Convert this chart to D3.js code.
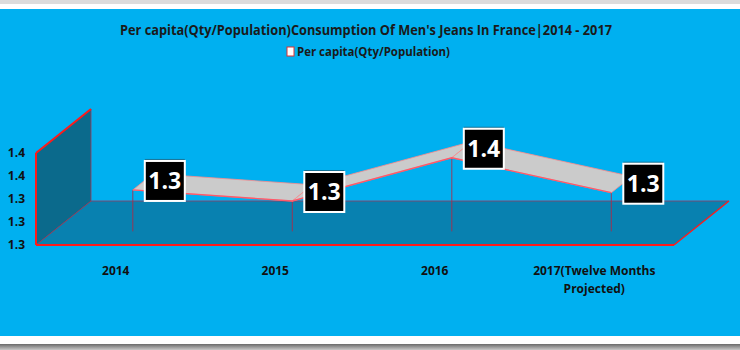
<!DOCTYPE html>
<html><head><meta charset="utf-8">
<script src="https://cdn.jsdelivr.net/npm/d3@7"></script>
<style>body{margin:0;background:#fff;}svg{display:block;}</style>
</head><body>
<svg id="c" width="740" height="350"></svg>
<script>
const title = "Per capita(Qty/Population)Consumption Of Men's Jeans In France|2014 - 2017";
const seriesName = "Per capita(Qty/Population)";
const categories = ["2014", "2015", "2016", "2017(Twelve Months Projected)"];
const categoryLines = [["2014"], ["2015"], ["2016"], ["2017(Twelve Months", "Projected)"]];
const values = [1.320, 1.308, 1.355, 1.317];
const valueLabels = ["1.3", "1.3", "1.4", "1.3"];
const yTicks = [1.275, 1.3, 1.325, 1.35, 1.375];

const svg = d3.select("#c");
const font = "'Liberation Sans Narrow','Open Sans',Lato,sans-serif";

// frame
svg.append("rect").attr("x",0).attr("y",0).attr("width",740).attr("height",4).attr("fill","#dcdcdc");
svg.append("rect").attr("x",0).attr("y",9).attr("width",740).attr("height",327).attr("fill","#00b0f0");
const g0 = svg.append("defs").append("linearGradient").attr("id","bot").attr("x1",0).attr("y1",0).attr("x2",0).attr("y2",1);
g0.append("stop").attr("offset",0).attr("stop-color","#6a6a6a");
g0.append("stop").attr("offset",1).attr("stop-color","#c8c8c8");
svg.append("rect").attr("x",0).attr("y",344).attr("width",740).attr("height",6).attr("fill","url(#bot)");

// scales (front plane)
const x = d3.scaleBand().domain(categories).range([36, 674]);
const y = d3.scaleLinear().domain([1.275, 1.375]).range([245, 153]);
const DX = 55, DY = -44;
const P = (px, py, d) => [px + d*DX, py + d*DY];
const xmin = 36, xmax = 674, ybase = y(1.275), ytop = y(1.375);

// wall
const wall = [P(xmin,ybase,0),P(xmin,ytop,0),P(xmin,ytop,1),P(xmin,ybase,1)];
svg.append("polygon").attr("points", wall.join(" ")).attr("fill","#0b6a8c");
// floor
const floor = [P(xmin,ybase,0),P(xmax,ybase,0),P(xmax,ybase,1),P(xmin,ybase,1)];
svg.append("polygon").attr("points", floor.join(" ")).attr("fill","#0881b0");

const line = (a,b,c,w,o) => svg.append("line").attr("x1",a[0]).attr("y1",a[1]).attr("x2",b[0]).attr("y2",b[1]).attr("stroke",c).attr("stroke-width",w).attr("opacity",o||1);
line(P(xmin,ybase,1),P(xmax,ybase,1),"#9a3a5e",1,0.8);
line(P(xmin,ytop,1),P(xmin,ybase,1),"#9a3a5e",1,0.8);
line(P(xmin,ybase,0),P(xmin,ybase,1),"#b0304a",1,0.9);
line(P(xmin,ybase,0),P(xmin,ytop,0),"#ff1a1a",2);
line(P(xmin,ytop,0),P(xmin,ytop,1),"#ff1a1a",2);
line(P(xmin,ybase,0),P(xmax,ybase,0),"#ff1a1a",2);
line(P(xmax,ybase,0),P(xmax,ybase,1),"#ff1a1a",1.5);

// y axis labels
svg.append("g").selectAll("text").data(yTicks).join("text")
  .attr("x", 25).attr("y", d => y(d)).attr("dy","0.35em")
  .attr("text-anchor","end").attr("font-family",font).attr("font-weight","bold")
  .attr("font-size",12).attr("fill","#111")
  .text(d => d3.format(".1f")(d));

// category labels
const cat = svg.append("g").selectAll("text").data(categories).join("text")
  .attr("x", d => x(d) + x.bandwidth()/2).attr("y", 275)
  .attr("text-anchor","middle").attr("font-family",font).attr("font-weight","bold")
  .attr("font-size",12).attr("fill","#111");
cat.each(function(d,i){
  d3.select(this).selectAll("tspan").data(categoryLines[i]).join("tspan")
    .attr("x", x(d) + x.bandwidth()/2).attr("dy",(t,j)=> j===0?0:18).text(t=>t);
});

// series ribbon
const d1 = 0.31, d2 = 0.68;
const pts = categories.map((c,i)=>({c, v: values[i], cx: x(c)+x.bandwidth()/2, cy: y(values[i]) }));
const front = pts.map(p => P(p.cx, p.cy, d1));
const back = pts.map(p => P(p.cx, p.cy, d2));
// drop lines
pts.forEach((p,i)=>{ line(front[i], P(p.cx, ybase, d1), "#b02a48", 1, 0.85); });
for (let i=0;i<pts.length-1;i++){
  svg.append("polygon").attr("points",[front[i],front[i+1],back[i+1],back[i]].join(" "))
    .attr("fill","#cbcbcb").attr("stroke","#ff8a8a").attr("stroke-width",0.8);
}
svg.append("path").attr("d", d3.line()(front)).attr("fill","none").attr("stroke","#ff5a6a").attr("stroke-width",1.3);

// data labels
const lab = svg.append("g").selectAll("g").data(pts).join("g")
  .attr("transform",(p,i)=>`translate(${front[i][0]+32},${front[i][1]-9})`);
lab.append("rect").attr("x",-20).attr("y",-22).attr("width",40).attr("height",3).attr("fill","#1c4a5c").attr("opacity",0.6);
lab.append("rect").attr("x",-20).attr("y",-20).attr("width",40).attr("height",40)
  .attr("fill","#000").attr("stroke","#fff").attr("stroke-width",2);
lab.append("text").attr("text-anchor","middle").attr("dy","0.36em")
  .attr("font-family","'Open Sans',Lato,sans-serif").attr("font-weight","bold").attr("font-size",23)
  .attr("fill","#fff").text((p,i)=>valueLabels[i]);

// title
svg.append("text").attr("x",366).attr("y",35).attr("text-anchor","middle")
  .attr("font-family",font).attr("font-weight","bold").attr("font-size",14).attr("fill","#1a1a1a")
  .attr("textLength",492).attr("lengthAdjust","spacingAndGlyphs").text(title);

// legend
svg.append("rect").attr("x",287).attr("y",47).attr("width",7).attr("height",9)
  .attr("fill","#fff").attr("stroke","#e03030").attr("stroke-width",1);
svg.append("text").attr("x",297).attr("y",56).attr("font-family",font).attr("font-weight","bold")
  .attr("font-size",12).attr("fill","#1a1a1a").attr("textLength",153).attr("lengthAdjust","spacingAndGlyphs")
  .text(seriesName);
</script>
</body></html>
